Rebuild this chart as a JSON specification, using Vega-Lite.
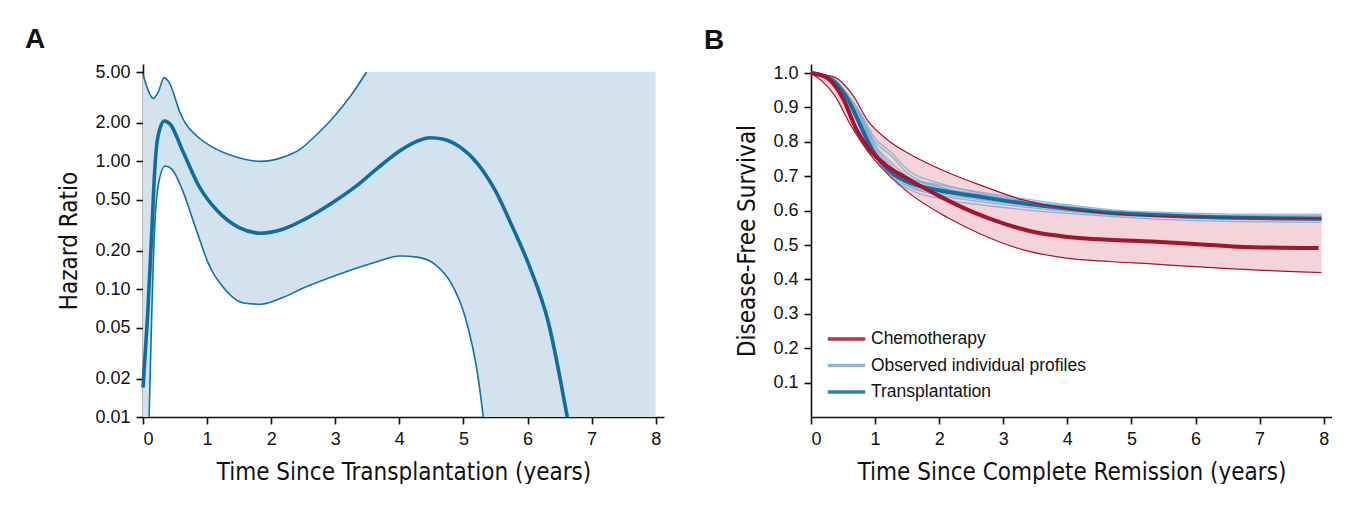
{
  "$schema": "https://vega.github.io/schema/vega-lite/v6.json",
  "background": "white",
  "padding": {"left": 25, "top": 26, "right": 0, "bottom": 0},
  "spacing": 40,
  "resolve": {"legend": {"color": "independent"}, "scale": {"color": "independent"}},
  "config": {
    "view": {"stroke": null},
    "axis": {
      "labelFont": "Liberation Sans", "labelFontSize": 18, "labelColor": "#111", "labelOverlap": false, "labelSeparation": 0,
      "titleFont": "Liberation Sans Narrow, DejaVu Sans Condensed, sans-serif", "titleFontSize": 24, "titleFontWeight": "normal", "titleColor": "#111",
      "domainColor": "#111", "domainWidth": 1.6, "tickColor": "#111", "tickWidth": 1.6, "tickSize": 7,
      "grid": false, "labelPadding": 6
    },
    "axisX": {"titlePadding": 12},
    "axisY": {"titlePadding": 13}
  },
  "datasets": {
    "estA": [
      {"t": 0, "v": 0.017}, {"t": 0.07, "v": 0.06}, {"t": 0.14, "v": 0.3}, {"t": 0.18, "v": 0.8},
      {"t": 0.23, "v": 1.53}, {"t": 0.333, "v": 2.07}, {"t": 0.428, "v": 1.94}, {"t": 0.618, "v": 1.21},
      {"t": 0.889, "v": 0.62}, {"t": 1.16, "v": 0.41}, {"t": 1.5, "v": 0.303}, {"t": 1.84, "v": 0.274},
      {"t": 2.18, "v": 0.294}, {"t": 2.52, "v": 0.352}, {"t": 2.92, "v": 0.462}, {"t": 3.33, "v": 0.642},
      {"t": 3.67, "v": 0.893}, {"t": 4.01, "v": 1.21}, {"t": 4.28, "v": 1.44}, {"t": 4.48, "v": 1.53},
      {"t": 4.69, "v": 1.49}, {"t": 4.96, "v": 1.28}, {"t": 5.23, "v": 0.949}, {"t": 5.5, "v": 0.587},
      {"t": 5.77, "v": 0.303}, {"t": 6.04, "v": 0.147}, {"t": 6.32, "v": 0.0564}, {"t": 6.62, "v": 0.01}
    ],
    "upA": [
      {"t": 0, "v": 4.8}, {"t": 0.08, "v": 3.6}, {"t": 0.16, "v": 3.1}, {"t": 0.24, "v": 3.51},
      {"t": 0.33, "v": 4.52}, {"t": 0.41, "v": 4.13}, {"t": 0.58, "v": 2.4}, {"t": 0.655, "v": 2.01},
      {"t": 0.84, "v": 1.58}, {"t": 1.1, "v": 1.28}, {"t": 1.41, "v": 1.1}, {"t": 1.83, "v": 1.0},
      {"t": 2.14, "v": 1.06}, {"t": 2.45, "v": 1.24}, {"t": 2.7, "v": 1.6}, {"t": 2.97, "v": 2.2},
      {"t": 3.25, "v": 3.3}, {"t": 3.49, "v": 5.0}
    ],
    "loA": [
      {"t": 0.096, "v": 0.01}, {"t": 0.177, "v": 0.27}, {"t": 0.245, "v": 0.68}, {"t": 0.347, "v": 0.92},
      {"t": 0.45, "v": 0.87}, {"t": 0.62, "v": 0.587}, {"t": 0.82, "v": 0.303}, {"t": 1.025, "v": 0.157},
      {"t": 1.3, "v": 0.097}, {"t": 1.57, "v": 0.078}, {"t": 1.84, "v": 0.0762}, {"t": 2.18, "v": 0.086},
      {"t": 2.52, "v": 0.103}, {"t": 3.06, "v": 0.131}, {"t": 3.6, "v": 0.161}, {"t": 4.01, "v": 0.182},
      {"t": 4.28, "v": 0.178}, {"t": 4.55, "v": 0.157}, {"t": 4.82, "v": 0.109}, {"t": 5.03, "v": 0.06},
      {"t": 5.23, "v": 0.0203}, {"t": 5.31, "v": 0.01}
    ],
    "bandA": [
      {"t": 0, "lo": 0.01, "hi": 4.8}, {"t": 0.08, "lo": 0.01, "hi": 3.6}, {"t": 0.096, "lo": 0.01, "hi": 3.45},
      {"t": 0.16, "lo": 0.2, "hi": 3.1}, {"t": 0.177, "lo": 0.27, "hi": 3.2}, {"t": 0.245, "lo": 0.68, "hi": 3.55},
      {"t": 0.33, "lo": 0.91, "hi": 4.52}, {"t": 0.347, "lo": 0.92, "hi": 4.5}, {"t": 0.41, "lo": 0.89, "hi": 4.13},
      {"t": 0.45, "lo": 0.87, "hi": 3.7}, {"t": 0.58, "lo": 0.64, "hi": 2.4}, {"t": 0.62, "lo": 0.587, "hi": 2.25},
      {"t": 0.655, "lo": 0.53, "hi": 2.01}, {"t": 0.82, "lo": 0.303, "hi": 1.62}, {"t": 0.84, "lo": 0.29, "hi": 1.58},
      {"t": 1.025, "lo": 0.157, "hi": 1.35}, {"t": 1.1, "lo": 0.14, "hi": 1.28}, {"t": 1.3, "lo": 0.097, "hi": 1.15},
      {"t": 1.41, "lo": 0.09, "hi": 1.1}, {"t": 1.57, "lo": 0.078, "hi": 1.04}, {"t": 1.83, "lo": 0.0762, "hi": 1.0},
      {"t": 2.14, "lo": 0.085, "hi": 1.06}, {"t": 2.45, "lo": 0.1, "hi": 1.24}, {"t": 2.52, "lo": 0.103, "hi": 1.3},
      {"t": 2.7, "lo": 0.113, "hi": 1.6}, {"t": 2.97, "lo": 0.127, "hi": 2.2}, {"t": 3.06, "lo": 0.131, "hi": 2.5},
      {"t": 3.25, "lo": 0.142, "hi": 3.3}, {"t": 3.49, "lo": 0.155, "hi": 5.0}, {"t": 3.6, "lo": 0.161, "hi": 5.0},
      {"t": 4.01, "lo": 0.182, "hi": 5.0}, {"t": 4.28, "lo": 0.178, "hi": 5.0}, {"t": 4.55, "lo": 0.157, "hi": 5.0},
      {"t": 4.82, "lo": 0.109, "hi": 5.0}, {"t": 5.03, "lo": 0.06, "hi": 5.0}, {"t": 5.23, "lo": 0.0203, "hi": 5.0},
      {"t": 5.31, "lo": 0.01, "hi": 5.0}, {"t": 8, "lo": 0.01, "hi": 5.0}
    ],
    "chemo": [
      {"t": 0, "v": 1.0}, {"t": 0.234, "v": 0.988}, {"t": 0.502, "v": 0.925}, {"t": 0.703, "v": 0.838},
      {"t": 0.904, "v": 0.78}, {"t": 1.171, "v": 0.732}, {"t": 1.506, "v": 0.693}, {"t": 1.975, "v": 0.645},
      {"t": 2.51, "v": 0.597}, {"t": 3.045, "v": 0.56}, {"t": 3.58, "v": 0.534}, {"t": 3.98, "v": 0.524},
      {"t": 4.65, "v": 0.515}, {"t": 5.32, "v": 0.51}, {"t": 5.99, "v": 0.503}, {"t": 6.66, "v": 0.495},
      {"t": 7.92, "v": 0.491}
    ],
    "bandB": [
      {"t": 0, "lo": 1.0, "hi": 1.0}, {"t": 0.368, "lo": 0.935, "hi": 0.988}, {"t": 0.636, "lo": 0.843, "hi": 0.94},
      {"t": 0.904, "lo": 0.768, "hi": 0.857}, {"t": 1.171, "lo": 0.711, "hi": 0.809}, {"t": 1.573, "lo": 0.645, "hi": 0.761},
      {"t": 2.108, "lo": 0.582, "hi": 0.713}, {"t": 2.644, "lo": 0.532, "hi": 0.674}, {"t": 3.313, "lo": 0.486, "hi": 0.631},
      {"t": 3.983, "lo": 0.462, "hi": 0.606}, {"t": 4.652, "lo": 0.452, "hi": 0.592}, {"t": 5.32, "lo": 0.445, "hi": 0.584},
      {"t": 5.99, "lo": 0.437, "hi": 0.582}, {"t": 6.66, "lo": 0.43, "hi": 0.579}, {"t": 7.965, "lo": 0.42, "hi": 0.577}
    ],
    "transp": [
      {"t": 0, "v": 1.0}, {"t": 0.301, "v": 0.983}, {"t": 0.569, "v": 0.925}, {"t": 0.77, "v": 0.848},
      {"t": 0.971, "v": 0.771}, {"t": 1.238, "v": 0.713}, {"t": 1.573, "v": 0.679}, {"t": 1.975, "v": 0.66},
      {"t": 2.644, "v": 0.64}, {"t": 3.313, "v": 0.621}, {"t": 3.983, "v": 0.606}, {"t": 4.652, "v": 0.594},
      {"t": 5.32, "v": 0.587}, {"t": 5.99, "v": 0.582}, {"t": 6.66, "v": 0.579}, {"t": 7.965, "v": 0.576}
    ],
    "profiles": [
      {"p": 1, "t": 0, "v": 1.0}, {"p": 1, "t": 0.3, "v": 0.99}, {"p": 1, "t": 0.6, "v": 0.93}, {"p": 1, "t": 0.8, "v": 0.87}, {"p": 1, "t": 1.0, "v": 0.79}, {"p": 1, "t": 1.25, "v": 0.73}, {"p": 1, "t": 1.5, "v": 0.695}, {"p": 1, "t": 2, "v": 0.675}, {"p": 1, "t": 2.6, "v": 0.655}, {"p": 1, "t": 3.3, "v": 0.635}, {"p": 1, "t": 4, "v": 0.617}, {"p": 1, "t": 4.65, "v": 0.603}, {"p": 1, "t": 5.3, "v": 0.596}, {"p": 1, "t": 6, "v": 0.592}, {"p": 1, "t": 6.7, "v": 0.59}, {"p": 1, "t": 7.97, "v": 0.59},
      {"p": 2, "t": 0, "v": 1.0}, {"p": 2, "t": 0.3, "v": 0.985}, {"p": 2, "t": 0.6, "v": 0.92}, {"p": 2, "t": 0.8, "v": 0.865}, {"p": 2, "t": 1.0, "v": 0.8}, {"p": 2, "t": 1.25, "v": 0.76}, {"p": 2, "t": 1.5, "v": 0.71}, {"p": 2, "t": 2, "v": 0.67}, {"p": 2, "t": 2.6, "v": 0.648}, {"p": 2, "t": 3.3, "v": 0.628}, {"p": 2, "t": 4, "v": 0.612}, {"p": 2, "t": 4.65, "v": 0.6}, {"p": 2, "t": 5.3, "v": 0.593}, {"p": 2, "t": 6, "v": 0.588}, {"p": 2, "t": 6.7, "v": 0.586}, {"p": 2, "t": 7.97, "v": 0.585},
      {"p": 3, "t": 0, "v": 1.0}, {"p": 3, "t": 0.3, "v": 0.98}, {"p": 3, "t": 0.6, "v": 0.91}, {"p": 3, "t": 0.8, "v": 0.85}, {"p": 3, "t": 1.0, "v": 0.77}, {"p": 3, "t": 1.25, "v": 0.705}, {"p": 3, "t": 1.5, "v": 0.672}, {"p": 3, "t": 2, "v": 0.645}, {"p": 3, "t": 2.6, "v": 0.627}, {"p": 3, "t": 3.3, "v": 0.611}, {"p": 3, "t": 4, "v": 0.598}, {"p": 3, "t": 4.65, "v": 0.588}, {"p": 3, "t": 5.3, "v": 0.582}, {"p": 3, "t": 6, "v": 0.577}, {"p": 3, "t": 6.7, "v": 0.574}, {"p": 3, "t": 7.97, "v": 0.572},
      {"p": 4, "t": 0, "v": 1.0}, {"p": 4, "t": 0.3, "v": 0.978}, {"p": 4, "t": 0.6, "v": 0.905}, {"p": 4, "t": 0.8, "v": 0.84}, {"p": 4, "t": 1.0, "v": 0.76}, {"p": 4, "t": 1.25, "v": 0.7}, {"p": 4, "t": 1.5, "v": 0.665}, {"p": 4, "t": 2, "v": 0.635}, {"p": 4, "t": 2.6, "v": 0.618}, {"p": 4, "t": 3.3, "v": 0.603}, {"p": 4, "t": 4, "v": 0.592}, {"p": 4, "t": 4.65, "v": 0.583}, {"p": 4, "t": 5.3, "v": 0.576}, {"p": 4, "t": 6, "v": 0.571}, {"p": 4, "t": 6.7, "v": 0.568}, {"p": 4, "t": 7.97, "v": 0.566},
      {"p": 5, "t": 0, "v": 1.0}, {"p": 5, "t": 0.3, "v": 0.988}, {"p": 5, "t": 0.6, "v": 0.93}, {"p": 5, "t": 0.8, "v": 0.875}, {"p": 5, "t": 1.0, "v": 0.81}, {"p": 5, "t": 1.25, "v": 0.77}, {"p": 5, "t": 1.5, "v": 0.72}, {"p": 5, "t": 2, "v": 0.68}, {"p": 5, "t": 2.6, "v": 0.652}, {"p": 5, "t": 3.3, "v": 0.63}, {"p": 5, "t": 4, "v": 0.612}, {"p": 5, "t": 4.65, "v": 0.598}, {"p": 5, "t": 5.3, "v": 0.59}, {"p": 5, "t": 6, "v": 0.585}, {"p": 5, "t": 6.7, "v": 0.582}, {"p": 5, "t": 7.97, "v": 0.58},
      {"p": 6, "t": 0, "v": 1.0}, {"p": 6, "t": 0.3, "v": 0.982}, {"p": 6, "t": 0.6, "v": 0.915}, {"p": 6, "t": 0.8, "v": 0.855}, {"p": 6, "t": 1.0, "v": 0.775}, {"p": 6, "t": 1.25, "v": 0.715}, {"p": 6, "t": 1.5, "v": 0.683}, {"p": 6, "t": 2, "v": 0.66}, {"p": 6, "t": 2.6, "v": 0.643}, {"p": 6, "t": 3.3, "v": 0.625}, {"p": 6, "t": 4, "v": 0.608}, {"p": 6, "t": 4.65, "v": 0.596}, {"p": 6, "t": 5.3, "v": 0.589}, {"p": 6, "t": 6, "v": 0.584}, {"p": 6, "t": 6.7, "v": 0.581}, {"p": 6, "t": 7.97, "v": 0.578},
      {"p": 7, "t": 0, "v": 1.0}, {"p": 7, "t": 0.3, "v": 0.984}, {"p": 7, "t": 0.6, "v": 0.918}, {"p": 7, "t": 0.8, "v": 0.86}, {"p": 7, "t": 1.0, "v": 0.78}, {"p": 7, "t": 1.25, "v": 0.72}, {"p": 7, "t": 1.5, "v": 0.676}, {"p": 7, "t": 2, "v": 0.65}, {"p": 7, "t": 2.6, "v": 0.633}, {"p": 7, "t": 3.3, "v": 0.616}, {"p": 7, "t": 4, "v": 0.602}, {"p": 7, "t": 4.65, "v": 0.591}, {"p": 7, "t": 5.3, "v": 0.584}, {"p": 7, "t": 6, "v": 0.579}, {"p": 7, "t": 6.7, "v": 0.576}, {"p": 7, "t": 7.97, "v": 0.573},
      {"p": 8, "t": 0, "v": 1.0}, {"p": 8, "t": 0.3, "v": 0.986}, {"p": 8, "t": 0.6, "v": 0.922}, {"p": 8, "t": 0.8, "v": 0.865}, {"p": 8, "t": 1.0, "v": 0.79}, {"p": 8, "t": 1.25, "v": 0.74}, {"p": 8, "t": 1.5, "v": 0.7}, {"p": 8, "t": 2, "v": 0.668}, {"p": 8, "t": 2.6, "v": 0.646}, {"p": 8, "t": 3.3, "v": 0.626}, {"p": 8, "t": 4, "v": 0.61}, {"p": 8, "t": 4.65, "v": 0.598}, {"p": 8, "t": 5.3, "v": 0.59}, {"p": 8, "t": 6, "v": 0.586}, {"p": 8, "t": 6.7, "v": 0.584}, {"p": 8, "t": 7.97, "v": 0.583}
    ]
  },
  "hconcat": [
    {
      "width": 521,
      "height": 353,
      "title": {"text": "A", "anchor": "start", "frame": "group", "dx": -118, "offset": 9, "font": "Liberation Sans", "fontSize": 28, "fontWeight": "bold", "color": "#111"},
      "encoding": {
        "x": {"field": "t", "type": "quantitative", "scale": {"domain": [0, 8.13], "nice": false},
              "axis": {"values": [0, 1, 2, 3, 4, 5, 6, 7, 8], "format": "d", "labelOverlap": false, "title": "Time Since Transplantation (years)"}}
      },
      "layer": [
        {
          "data": {"name": "bandA"},
          "mark": {"type": "area", "color": "#d3e3ee", "interpolate": "monotone"},
          "encoding": {
            "y": {"field": "lo", "type": "quantitative",
                  "scale": {"type": "log", "domain": [0.01, 5.7755], "nice": false},
                  "axis": {"values": [0.01, 0.02, 0.05, 0.1, 0.2, 0.5, 1, 2, 5], "format": ".2f", "labelOverlap": false, "title": "Hazard Ratio"}},
            "y2": {"field": "hi"}
          }
        },
        {
          "mark": {"type": "rule", "color": "#333333", "strokeWidth": 1.5},
          "encoding": {"y": {"datum": 1, "type": "quantitative"}, "x": null}
        },
        {
          "data": {"name": "upA"},
          "mark": {"type": "line", "color": "#1272a5", "strokeWidth": 1.6, "interpolate": "monotone"},
          "encoding": {"y": {"field": "v", "type": "quantitative"}}
        },
        {
          "data": {"name": "loA"},
          "mark": {"type": "line", "color": "#1272a5", "strokeWidth": 1.6, "interpolate": "monotone"},
          "encoding": {"y": {"field": "v", "type": "quantitative"}}
        },
        {
          "data": {"name": "estA"},
          "mark": {"type": "line", "color": "#0d6e9f", "strokeWidth": 3.6, "interpolate": "monotone"},
          "encoding": {"y": {"field": "v", "type": "quantitative"}}
        }
      ]
    },
    {
      "width": 521,
      "height": 353,
      "title": {"text": "B", "anchor": "start", "frame": "group", "dx": -107, "offset": 9, "font": "Liberation Sans", "fontSize": 28, "fontWeight": "bold", "color": "#111"},
      "encoding": {
        "x": {"field": "t", "type": "quantitative", "scale": {"domain": [0, 8.13], "nice": false},
              "axis": {"values": [0, 1, 2, 3, 4, 5, 6, 7, 8], "format": "d", "labelOverlap": false, "title": "Time Since Complete Remission (years)"}}
      },
      "layer": [
        {
          "data": {"name": "bandB"},
          "mark": {"type": "area", "color": "#f3d4db", "interpolate": "monotone"},
          "encoding": {
            "y": {"field": "lo", "type": "quantitative",
                  "scale": {"domain": [0, 1.0262], "nice": false, "zero": false},
                  "axis": {"values": [0.1, 0.2, 0.3, 0.4, 0.5, 0.6, 0.7, 0.8, 0.9, 1.0], "format": ".1f", "labelOverlap": false, "labelSeparation": 0, "tickCount": 10, "title": "Disease-Free Survival"}},
            "y2": {"field": "hi"}
          }
        },
        {
          "data": {"name": "profiles"},
          "mark": {"type": "line", "strokeWidth": 1.3, "opacity": 0.85, "interpolate": "monotone"},
          "encoding": {
            "y": {"field": "v", "type": "quantitative",
                  "axis": {"values": [0.1, 0.2, 0.3, 0.4, 0.5, 0.6, 0.7, 0.8, 0.9, 1.0], "format": ".1f", "labelOverlap": false, "labelSeparation": 0, "tickCount": 10, "title": "Disease-Free Survival"}},
            "detail": {"field": "p", "type": "nominal"},
            "color": {"datum": "Observed individual profiles", "type": "nominal",
                      "scale": {"domain": ["Chemotherapy", "Observed individual profiles", "Transplantation"], "range": ["#a7122f", "#7eaad0", "#11709f"]}}
          }
        },
        {
          "data": {"name": "transp"},
          "mark": {"type": "line", "strokeWidth": 4, "interpolate": "monotone"},
          "encoding": {
            "y": {"field": "v", "type": "quantitative",
                  "axis": {"values": [0.1, 0.2, 0.3, 0.4, 0.5, 0.6, 0.7, 0.8, 0.9, 1.0], "format": ".1f", "labelOverlap": false, "labelSeparation": 0, "tickCount": 10, "title": "Disease-Free Survival"}},
            "color": {"datum": "Transplantation", "type": "nominal"}
          }
        },
        {
          "data": {"name": "bandB"},
          "mark": {"type": "line", "color": "#a7122f", "strokeWidth": 1.2, "interpolate": "monotone"},
          "encoding": {"y": {"field": "hi", "type": "quantitative",
                  "axis": {"values": [0.1, 0.2, 0.3, 0.4, 0.5, 0.6, 0.7, 0.8, 0.9, 1.0], "format": ".1f", "labelOverlap": false, "labelSeparation": 0, "tickCount": 10, "title": "Disease-Free Survival"}}}
        },
        {
          "data": {"name": "bandB"},
          "mark": {"type": "line", "color": "#a7122f", "strokeWidth": 1.2, "interpolate": "monotone"},
          "encoding": {"y": {"field": "lo", "type": "quantitative",
                  "axis": {"values": [0.1, 0.2, 0.3, 0.4, 0.5, 0.6, 0.7, 0.8, 0.9, 1.0], "format": ".1f", "labelOverlap": false, "labelSeparation": 0, "tickCount": 10, "title": "Disease-Free Survival"}}}
        },
        {
          "data": {"name": "chemo"},
          "mark": {"type": "line", "strokeWidth": 4, "interpolate": "monotone"},
          "encoding": {
            "y": {"field": "v", "type": "quantitative",
                  "axis": {"values": [0.1, 0.2, 0.3, 0.4, 0.5, 0.6, 0.7, 0.8, 0.9, 1.0], "format": ".1f", "labelOverlap": false, "labelSeparation": 0, "tickCount": 10, "title": "Disease-Free Survival"}},
            "color": {"datum": "Chemotherapy", "type": "nominal",
                      "legend": {"title": null, "orient": "none", "legendX": 22.5, "legendY": 262, "padding": 0, "rowPadding": 4.5,
                                 "symbolType": "M-1.7,0H1.7", "symbolSize": 484, "symbolStrokeWidth": 3.5,
                                 "labelFont": "Liberation Sans", "labelFontSize": 17.5, "labelColor": "#111", "labelOffset": 11.5, "labelLimit": 0}}
          }
        }
      ]
    }
  ]
}
